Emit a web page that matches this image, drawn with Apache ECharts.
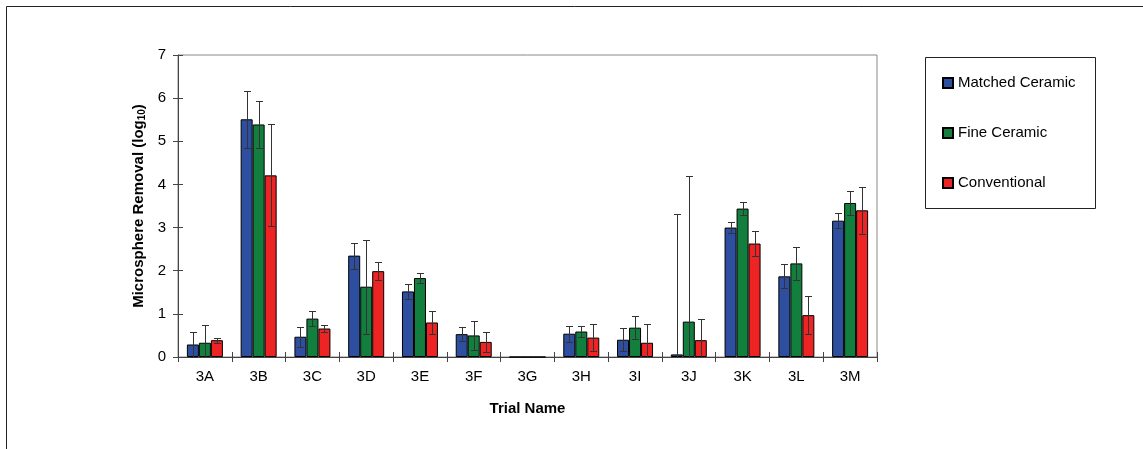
<!DOCTYPE html>
<html>
<head>
<meta charset="utf-8">
<script src="https://cdn.jsdelivr.net/npm/echarts@6/dist/echarts.min.js"></script>
<style>
  html, body { margin: 0; padding: 0; background: #fff; }
  #chart { width: 1143px; height: 449px; }
</style>
</head>
<body>
<div id="chart"></div>
<script>
// trial names on the x axis
const categories = ['3A', '3B', '3C', '3D', '3E', '3F', '3G', '3H', '3I', '3J', '3K', '3L', '3M'];

// mean log10 removal per filter type
const matched      = [0.29, 5.51, 0.47, 2.35, 1.52, 0.53, 0, 0.54, 0.40, 0.06, 3.00, 1.87, 3.16];
const fine         = [0.33, 5.39, 0.89, 1.63, 1.83, 0.50, 0, 0.59, 0.68, 0.82, 3.44, 2.17, 3.57];
const conventional = [0.39, 4.21, 0.66, 1.99, 0.80, 0.35, 0, 0.45, 0.33, 0.39, 2.63, 0.97, 3.40];

// +/- error (symmetric)
const matchedErr      = [0.29, 0.66, 0.23, 0.30, 0.17, 0.16, 0, 0.19, 0.27, 3.26, 0.13, 0.28, 0.18];
const fineErr         = [0.41, 0.54, 0.17, 1.09, 0.11, 0.34, 0, 0.13, 0.26, 3.37, 0.16, 0.39, 0.28];
const conventionalErr = [0.06, 1.18, 0.09, 0.21, 0.27, 0.23, 0, 0.31, 0.44, 0.50, 0.29, 0.44, 0.54];

const seriesNames = ['Matched Ceramic', 'Fine Ceramic', 'Conventional'];
const colors = ['#2e4fa0', '#137f3f', '#ee2323'];
const BAR_W = 12;
const FONT = '"Liberation Sans", Arial, sans-serif';

function errData(vals, errs) {
    return vals.map((v, i) => [i, v - errs[i], v + errs[i]]);
}

function errRender(slot) {
    return function (params, api) {
        let lo = api.value(1), hi = api.value(2);
        if (hi - lo <= 0) return null;
        let clipped = lo < 0;
        if (clipped) lo = 0;
        let x = api.coord([api.value(0), 0])[0] + (slot - 1) * BAR_W;
        x = Math.round(x) + 0.5;
        let yHi = Math.round(api.coord([api.value(0), hi])[1]) + 0.5;
        let yLo = Math.round(api.coord([api.value(0), lo])[1]) + 0.5;
        let st = { stroke: '#333', lineWidth: 1 };
        let kids = [
            { type: 'line', shape: { x1: x, y1: yHi, x2: x, y2: yLo }, style: st },
            { type: 'line', shape: { x1: x - 3.5, y1: yHi, x2: x + 3.5, y2: yHi }, style: st }
        ];
        if (!clipped) {
            kids.push({ type: 'line', shape: { x1: x - 3.5, y1: yLo, x2: x + 3.5, y2: yLo }, style: st });
        }
        return { type: 'group', children: kids };
    };
}

const chart = echarts.init(document.getElementById('chart'));

const values = [matched, fine, conventional];
const errs = [matchedErr, fineErr, conventionalErr];

let series = [];
values.forEach((vals, k) => {
    series.push({
        name: seriesNames[k],
        type: 'bar',
        data: vals,
        barWidth: BAR_W,
        barGap: '0%',
        itemStyle: { color: colors[k], borderColor: '#000', borderWidth: 1 },
        z: 2,
        animation: false
    });
});
values.forEach((vals, k) => {
    series.push({
        type: 'custom',
        renderItem: errRender(k),
        data: errData(vals, errs[k]),
        encode: { x: 0, y: [1, 2] },
        z: 5,
        silent: true,
        animation: false
    });
});

chart.setOption({
    animation: false,
    textStyle: { fontFamily: FONT },
    grid: {
        left: 178, top: 55, right: 266, bottom: 92,
        show: true, borderColor: '#888', borderWidth: 1
    },
    legend: {
        orient: 'vertical',
        left: 942, top: 74,
        padding: 0,
        icon: 'rect',
        itemWidth: 10, itemHeight: 10,
        itemGap: 32,
        selectedMode: false,
        data: seriesNames,
        textStyle: { fontSize: 15, color: '#000', fontFamily: FONT, lineHeight: 18 }
    },
    xAxis: [{
        type: 'category',
        data: categories,
        name: 'Trial Name',
        nameLocation: 'middle',
        nameGap: 44,
        nameTextStyle: { fontSize: 15, fontWeight: 'bold', color: '#000' },
        axisLine: { lineStyle: { color: '#444' } },
        axisTick: { show: true, length: 5, lineStyle: { color: '#444' } },
        axisLabel: { fontSize: 15, color: '#000', margin: 12 }
    }, {
        type: 'category',
        data: categories,
        position: 'bottom',
        axisLine: { show: false },
        axisTick: { show: true, inside: true, length: 5, lineStyle: { color: '#444' } },
        axisLabel: { show: false }
    }],
    yAxis: [{
        type: 'value',
        min: 0, max: 7, interval: 1,
        name: 'Microsphere Removal (log{sub|10})',
        nameLocation: 'middle',
        nameGap: 30,
        nameTextStyle: {
            fontSize: 15, fontWeight: 'bold', color: '#000',
            rich: { sub: { fontSize: 10, fontWeight: 'bold', color: '#000', verticalAlign: 'bottom', padding: [6, 0, 0, 0] } }
        },
        axisLine: { show: true, lineStyle: { color: '#444' } },
        axisTick: { show: true, length: 5, lineStyle: { color: '#444' } },
        splitLine: { show: false },
        axisLabel: { fontSize: 15, color: '#000', margin: 12 }
    }, {
        type: 'value',
        min: 0, max: 7, interval: 1,
        position: 'left',
        axisLine: { show: false },
        axisTick: { show: true, inside: true, length: 5, lineStyle: { color: '#444' } },
        splitLine: { show: false },
        axisLabel: { show: false }
    }],
    graphic: [
        { type: 'line', shape: { x1: 6.5, y1: 6.5, x2: 1143, y2: 6.5 }, style: { stroke: '#222', lineWidth: 1 } },
        { type: 'line', shape: { x1: 6.5, y1: 6.5, x2: 6.5, y2: 449 }, style: { stroke: '#222', lineWidth: 1 } },
        { type: 'rect', shape: { x: 925.5, y: 57.5, width: 170, height: 151 }, style: { fill: null, stroke: '#222', lineWidth: 1 }, z: -1 }
    ],
    series: series
});
</script>
</body>
</html>
